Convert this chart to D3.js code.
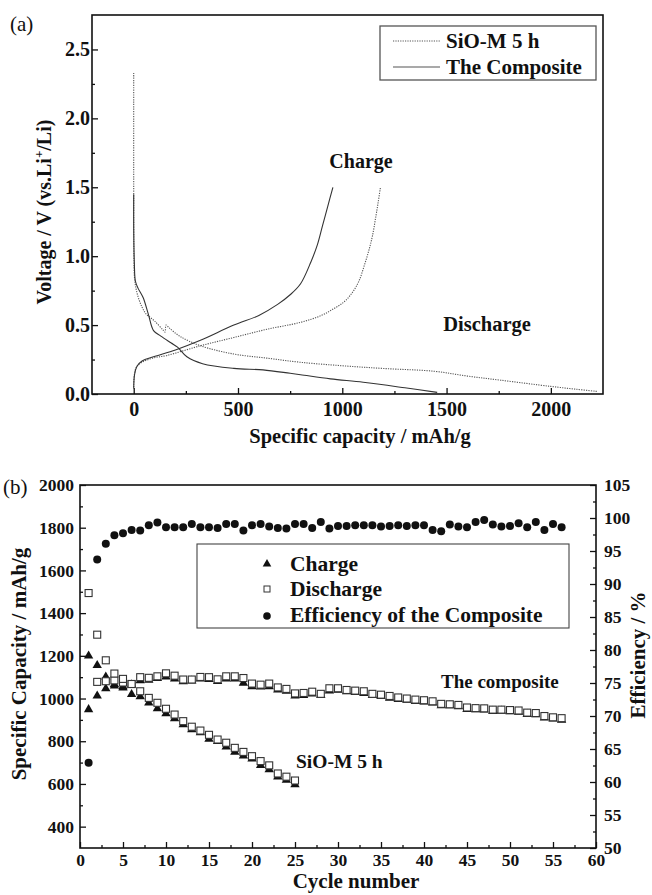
<!DOCTYPE html>
<html>
<head>
<meta charset="utf-8">
<script src="https://cdn.jsdelivr.net/npm/d3@7"></script>
<style>
  body { margin: 0; background: #fff; }
  svg text { font-family: "Liberation Serif", "Times New Roman", serif; fill: #111; }
  .tick text { font-weight: bold; }
  .title { font-weight: bold; }
</style>
</head>
<body>
<div id="chart"></div>
<script>
// ---- panel (a): voltage profiles, [capacity mAh/g, voltage V] ----
var sioDischarge = [[0,2.33],[0,1.5],[1,1.0],[3,0.86],[8,0.79],[20,0.71],[40,0.63],[60,0.58],[100,0.53],[140,0.465],[150,0.45],[155,0.5],[170,0.48],[220,0.42],[320,0.35],[480,0.29],[640,0.26],[800,0.23],[1000,0.205],[1200,0.185],[1440,0.165],[1600,0.13],[1760,0.1],[2000,0.055],[2120,0.035],[2225,0.018]];
var sioCharge = [[0,0.05],[4,0.15],[15,0.2],[40,0.23],[90,0.26],[160,0.28],[320,0.35],[480,0.41],[640,0.47],[800,0.52],[900,0.57],[960,0.62],[1010,0.67],[1050,0.74],[1080,0.82],[1105,0.93],[1127,1.04],[1145,1.15],[1160,1.28],[1172,1.39],[1183,1.5]];
var compDischarge = [[0,1.45],[0,1.2],[3,0.95],[8,0.82],[20,0.77],[45,0.7],[70,0.58],[95,0.46],[130,0.42],[180,0.37],[210,0.34],[255,0.27],[330,0.22],[480,0.186],[620,0.175],[750,0.15],[800,0.14],[943,0.11],[1100,0.085],[1300,0.045],[1455,0.012]];
var compCharge = [[0,0.04],[4,0.14],[15,0.2],[40,0.24],[95,0.27],[200,0.32],[320,0.39],[480,0.5],[600,0.57],[690,0.65],[750,0.72],[800,0.8],[850,0.96],[880,1.08],[905,1.22],[930,1.36],[955,1.5]];

// ---- panel (b): cycling, index 0 = cycle 1 ----
var sioChargeCyc = [1195,1151,1097,1062,1045,1015,1005,975,948,925,902,874,850,836,805,795,769,745,727,713,683,663,629,613,592];
// cycle 1 discharge of SiO-M is above the axis top, so the list starts at cycle 2
var sioDischargeCyc = [1299,1179,1117,1092,1068,1034,1003,980,952,925,894,868,850,830,808,793,769,750,730,707,687,649,634,616];
var compChargeCyc = [944,1008,1042,1055,1052,1060,1080,1082,1090,1097,1088,1075,1078,1088,1085,1076,1088,1088,1068,1052,1050,1052,1036,1030,1008,1010,1018,1010,1032,1035,1028,1024,1020,1010,1006,998,992,988,982,980,975,962,962,958,945,944,942,936,937,934,932,922,920,905,900,895];
var compDischargeCyc = [1494,1078,1081,1085,1075,1068,1100,1097,1104,1118,1107,1089,1089,1101,1100,1090,1104,1104,1096,1070,1065,1070,1052,1045,1024,1026,1032,1022,1048,1048,1040,1037,1034,1022,1018,1012,1005,1000,995,992,987,975,973,970,958,955,954,948,948,946,944,934,932,918,912,908];
var efficiency = [62.9,93.7,96.1,97.4,97.7,98.2,98.1,98.9,99.3,98.6,98.6,98.6,99.1,98.6,98.6,98.5,99.1,99.1,98.1,98.9,99.1,98.7,98.5,98.4,99.1,99.1,98.5,99.4,98.4,98.8,98.8,98.9,98.9,98.9,98.7,98.8,98.9,98.8,98.9,98.9,98.2,98.0,99.0,98.7,98.6,99.4,99.7,99.0,98.7,98.8,99.2,98.6,99.4,98.2,99.1,98.6];

var aVoltTicks = [0, 0.5, 1.0, 1.5, 2.0, 2.5];
var aVoltMinor = [0.25, 0.75, 1.25, 1.75, 2.25];
var aCapTicks = [0, 500, 1000, 1500, 2000];
var aCapMinor = [250, 750, 1250, 1750];
var bCapTicks = [400, 600, 800, 1000, 1200, 1400, 1600, 1800, 2000];
var bCapMinor = [500, 700, 900, 1100, 1300, 1500, 1700, 1900];
var bEffTicks = [50, 55, 60, 65, 70, 75, 80, 85, 90, 95, 100, 105];
var bEffMinor = [52.5, 57.5, 62.5, 67.5, 72.5, 77.5, 82.5, 87.5, 92.5, 97.5, 102.5];
var bCycTicks = [0, 5, 10, 15, 20, 25, 30, 35, 40, 45, 50, 55, 60];
var bCycMinor = [2.5, 7.5, 12.5, 17.5, 22.5, 27.5, 32.5, 37.5, 42.5, 47.5, 52.5, 57.5];

var svg = d3.select("#chart").append("svg")
  .attr("width", 652)
  .attr("height", 895);

// draws inward ticks + labels for an axis group
function addAxis(g, axisFn, scale, major, minor, fmt, fontSize, pad) {
  g.append("g")
    .call(axisFn(scale).tickValues(major).tickFormat(fmt).tickSizeInner(-6).tickSizeOuter(0).tickPadding(pad))
    .call(function(s) { s.select(".domain").remove(); })
    .selectAll("text").style("font-size", fontSize + "px");
  g.append("g")
    .call(axisFn(scale).tickValues(minor).tickFormat("").tickSizeInner(-3).tickSizeOuter(0))
    .call(function(s) { s.select(".domain").remove(); });
  g.selectAll("line").attr("stroke", "#111").attr("stroke-width", 1.3);
}

/* ================= panel (a) ================= */
var aL = 92, aT = 15, aR = 603, aB = 394;
var xa = d3.scaleLinear().domain([-200, 2250]).range([aL, aR]);
var ya = d3.scaleLinear().domain([0, 2.75]).range([aB, aT]);

var line = d3.line()
  .curve(d3.curveCatmullRom.alpha(0.5))
  .x(function(d) { return xa(d[0]); })
  .y(function(d) { return ya(d[1]); });

var curves = [
  { data: sioDischarge, dash: "1.2,1.2", color: "#555" },
  { data: sioCharge, dash: "1.2,1.2", color: "#555" },
  { data: compDischarge, dash: null, color: "#333" },
  { data: compCharge, dash: null, color: "#333" }
];
svg.append("g").selectAll("path")
  .data(curves)
  .enter()
  .append("path")
  .attr("d", function(d) { return line(d.data); })
  .attr("fill", "none")
  .attr("stroke", function(d) { return d.color; })
  .attr("stroke-width", 1.1)
  .attr("stroke-dasharray", function(d) { return d.dash; });

addAxis(svg.append("g").attr("transform", "translate(" + aL + ",0)"), d3.axisLeft, ya, aVoltTicks, aVoltMinor, d3.format(".1f"), 20, 2);
addAxis(svg.append("g").attr("transform", "translate(0," + aB + ")"), d3.axisBottom, xa, aCapTicks, aCapMinor, d3.format("d"), 20, 8);

svg.append("rect")
  .attr("x", aL).attr("y", aT)
  .attr("width", aR - aL).attr("height", aB - aT)
  .attr("fill", "none").attr("stroke", "#111").attr("stroke-width", 1.6);

svg.append("text").text("(a)").attr("x", 10).attr("y", 31).style("font-size", "21px");

svg.append("text")
  .attr("class", "title")
  .attr("text-anchor", "middle")
  .attr("x", 360).attr("y", 443)
  .style("font-size", "20.5px")
  .text("Specific capacity / mAh/g");

var vLab = svg.append("text")
  .attr("class", "title")
  .attr("text-anchor", "middle")
  .attr("transform", "translate(51,212) rotate(-90)")
  .style("font-size", "20px");
vLab.append("tspan").text("Voltage / V (vs.Li");
vLab.append("tspan").text("+").attr("dy", -8).style("font-size", "13px");
vLab.append("tspan").text("/Li)").attr("dy", 8);

svg.append("text").attr("class", "title").attr("x", 361).attr("y", 168)
  .attr("text-anchor", "middle").style("font-size", "20px").text("Charge");
svg.append("text").attr("class", "title").attr("x", 487).attr("y", 331)
  .attr("text-anchor", "middle").style("font-size", "20.5px").text("Discharge");

// legend (a)
svg.append("rect")
  .attr("x", 380).attr("y", 26).attr("width", 216).attr("height", 54)
  .attr("fill", "#fff").attr("stroke", "#555").attr("stroke-width", 1.3);
var legA = [
  { label: "SiO-M 5 h", dash: "1.2,1.2", color: "#555", y: 41 },
  { label: "The Composite", dash: null, color: "#555", y: 67 }
];
legA.forEach(function(d) {
  svg.append("line")
    .attr("x1", 393).attr("x2", 440).attr("y1", d.y).attr("y2", d.y)
    .attr("stroke", d.color).attr("stroke-width", 1.1)
    .attr("stroke-dasharray", d.dash);
  svg.append("text").attr("class", "title")
    .attr("x", 446).attr("y", d.y + 7)
    .style("font-size", "21px").text(d.label);
});

/* ================= panel (b) ================= */
var bL = 80, bT = 485, bR = 596, bB = 848;
var xb = d3.scaleLinear().domain([0, 60]).range([bL, bR]);
var yb = d3.scaleLinear().domain([300, 2000]).range([bB, bT]);
var yEff = d3.scaleLinear().domain([50, 105]).range([bB, bT]);

addAxis(svg.append("g").attr("transform", "translate(" + bL + ",0)"), d3.axisLeft, yb, bCapTicks, bCapMinor, d3.format("d"), 17.5, 6);
addAxis(svg.append("g").attr("transform", "translate(" + bR + ",0)"), d3.axisRight, yEff, bEffTicks, bEffMinor, d3.format("d"), 17.5, 8);
addAxis(svg.append("g").attr("transform", "translate(0," + bB + ")"), d3.axisBottom, xb, bCycTicks, bCycMinor, d3.format("d"), 17.5, 6);

var tri = d3.symbol().type(d3.symbolTriangle).size(38);

function drawTriangles(data, start) {
  svg.append("g").selectAll("path")
    .data(data)
    .enter()
    .append("path")
    .attr("d", tri)
    .attr("transform", function(d, i) {
      return "translate(" + xb(i + start) + "," + (yb(d) - 1) + ")";
    })
    .attr("fill", "#111");
}
function drawSquares(data, start) {
  svg.append("g").selectAll("rect")
    .data(data)
    .enter()
    .append("rect")
    .attr("x", function(d, i) { return xb(i + start) - 3.5; })
    .attr("y", function(d) { return yb(d) - 3.5; })
    .attr("width", 7).attr("height", 7)
    .attr("fill", "#fff")
    .attr("stroke", "#333")
    .attr("stroke-width", 1.1);
}

drawTriangles(compChargeCyc, 1);
drawTriangles(sioChargeCyc, 1);
drawSquares(compDischargeCyc, 1);
drawSquares(sioDischargeCyc, 2);

svg.append("g").selectAll("circle")
  .data(efficiency)
  .enter()
  .append("circle")
  .attr("cx", function(d, i) { return xb(i + 1); })
  .attr("cy", function(d) { return yEff(d); })
  .attr("r", 4)
  .attr("fill", "#111");

svg.append("rect")
  .attr("x", bL).attr("y", bT)
  .attr("width", bR - bL).attr("height", bB - bT)
  .attr("fill", "none").attr("stroke", "#111").attr("stroke-width", 1.6);

svg.append("text").text("(b)").attr("x", 3).attr("y", 494).style("font-size", "21px");

svg.append("text").attr("class", "title")
  .attr("text-anchor", "middle").attr("x", 356).attr("y", 888)
  .style("font-size", "21px").text("Cycle number");
svg.append("text").attr("class", "title")
  .attr("text-anchor", "middle").attr("transform", "translate(26,664) rotate(-90)")
  .style("font-size", "21px").text("Specific Capacity / mAh/g");
svg.append("text").attr("class", "title")
  .attr("text-anchor", "middle").attr("transform", "translate(645,655) rotate(-90)")
  .style("font-size", "21px").text("Efficiency / %");

svg.append("text").attr("class", "title").attr("x", 441).attr("y", 688)
  .style("font-size", "19px").text("The composite");
svg.append("text").attr("class", "title").attr("x", 296).attr("y", 768)
  .style("font-size", "19.5px").text("SiO-M 5 h");

// legend (b)
svg.append("rect")
  .attr("x", 197).attr("y", 544).attr("width", 372).attr("height", 84)
  .attr("fill", "#fff").attr("stroke", "#444").attr("stroke-width", 1.1);
svg.append("path").attr("d", d3.symbol().type(d3.symbolTriangle).size(32))
  .attr("transform", "translate(267,564)").attr("fill", "#111");
svg.append("rect").attr("x", 264).attr("y", 586).attr("width", 6).attr("height", 6)
  .attr("fill", "#fff").attr("stroke", "#333").attr("stroke-width", 1);
svg.append("circle").attr("cx", 267).attr("cy", 616).attr("r", 3.8).attr("fill", "#111");
var legB = [{ t: "Charge", y: 571 }, { t: "Discharge", y: 596 }, { t: "Efficiency of the Composite", y: 622 }];
legB.forEach(function(d) {
  svg.append("text").attr("class", "title").attr("x", 290).attr("y", d.y)
    .style("font-size", "21.5px").text(d.t);
});
</script>
</body>
</html>
